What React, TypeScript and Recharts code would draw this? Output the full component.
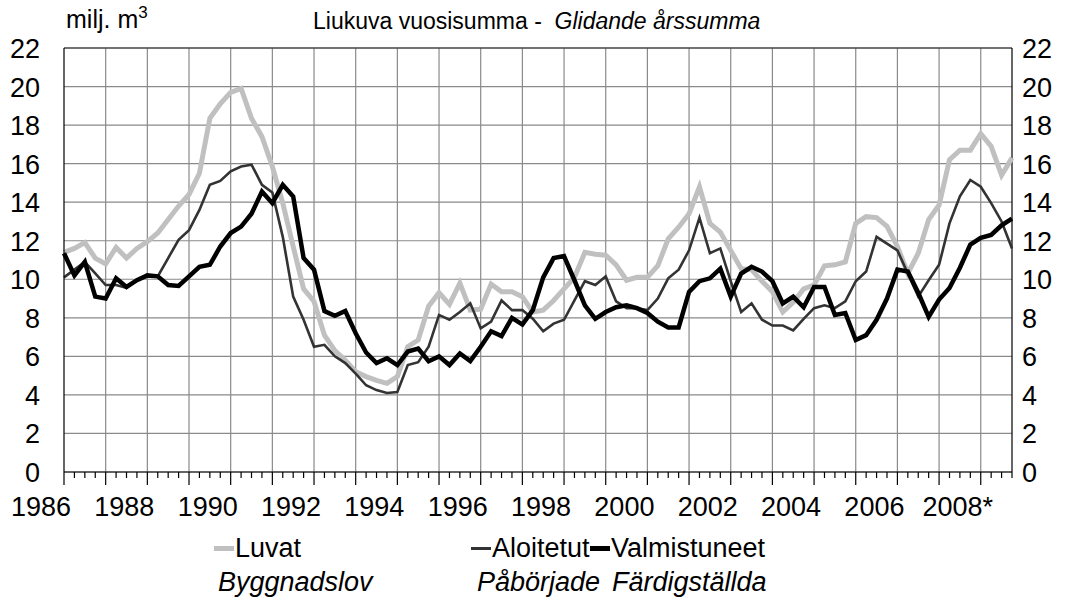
import React from "react";
import { LineChart, Line, XAxis, YAxis, ReferenceLine, CartesianGrid } from "recharts";

// quarterly moving annual sums, 1986 Q1 .. 2008 Q4 (mill. m3)
const luvat = [
  11.4, 11.6, 11.9, 11.1, 10.8, 11.65, 11.1, 11.6, 11.95, 12.4, 13.1, 13.8, 14.4, 15.5, 18.35, 19.1,
  19.7, 19.9, 18.35, 17.4, 15.85, 13.95, 11.7, 9.5, 8.85, 7.1, 6.3, 5.8, 5.2, 4.95, 4.75, 4.6,
  4.95, 6.5, 6.85, 8.6, 9.3, 8.7, 9.8, 8.4, 8.45, 9.75, 9.35, 9.35, 9.1, 8.3, 8.4, 8.9,
  9.5, 10.1, 11.4, 11.3, 11.25, 10.75, 9.95, 10.1, 10.1, 10.7, 12.1, 12.7, 13.4, 14.8, 12.9, 12.45,
  11.5, 10.55, 10.5, 9.9, 9.35, 8.3, 8.8, 9.5, 9.7, 10.7, 10.75, 10.9, 12.9, 13.25, 13.2, 12.75,
  11.7, 10.3, 11.35, 13.1, 13.85, 16.2, 16.7, 16.7, 17.55, 16.9, 15.4, 16.3,
];
const aloitetut = [
  10.1, 10.5, 10.9, 10.3, 9.7, 9.7, 9.55, 9.95, 10.15, 10.15, 11.1, 12.05, 12.55, 13.6, 14.9, 15.1,
  15.6, 15.85, 15.95, 14.9, 14.5, 12.2, 9.1, 7.9, 6.5, 6.6, 6.0, 5.65, 5.1, 4.5, 4.25, 4.1,
  4.15, 5.55, 5.7, 6.5, 8.15, 7.9, 8.3, 8.75, 7.45, 7.8, 8.9, 8.4, 8.4, 7.95, 7.3, 7.7,
  7.9, 8.9, 9.9, 9.7, 10.15, 8.85, 8.5, 8.5, 8.4, 9.0, 10.05, 10.5, 11.5, 13.2, 11.35, 11.6,
  9.9, 8.3, 8.75, 7.9, 7.6, 7.6, 7.35, 7.95, 8.5, 8.65, 8.5, 8.85, 9.9, 10.4, 12.2, 11.85,
  11.5, 10.3, 9.1, 9.95, 10.75, 12.9, 14.3, 15.15, 14.8, 13.95, 13.0, 11.6,
];
const valmistuneet = [
  11.35, 10.2, 10.9, 9.1, 9.0, 10.05, 9.6, 9.95, 10.2, 10.15, 9.7, 9.65, 10.15, 10.65, 10.75, 11.7,
  12.4, 12.73, 13.4, 14.55, 13.95, 14.9, 14.3, 11.1, 10.5, 8.35, 8.1, 8.35, 7.2, 6.2, 5.65, 5.9,
  5.55, 6.25, 6.4, 5.75, 6.0, 5.55, 6.15, 5.75, 6.5, 7.3, 7.05, 8.0, 7.65, 8.4, 10.1, 11.1,
  11.2, 9.95, 8.65, 7.95, 8.3, 8.55, 8.65, 8.5, 8.25, 7.8, 7.5, 7.5, 9.35, 9.9, 10.05, 10.55,
  9.1, 10.3, 10.65, 10.4, 9.9, 8.75, 9.1, 8.55, 9.6, 9.6, 8.15, 8.25, 6.85, 7.1, 7.9, 9.0,
  10.5, 10.4, 9.3, 8.05, 8.95, 9.55, 10.6, 11.8, 12.15, 12.3, 12.8, 13.15,
];

const yearLabels = ["1986", "1988", "1990", "1992", "1994", "1996", "1998", "2000", "2002", "2004", "2006", "2008*"];
const yTicks = [0, 2, 4, 6, 8, 10, 12, 14, 16, 18, 20, 22];

const data = luvat.map((v, i) => ({ q: i, luvat: v, aloitetut: aloitetut[i], valmistuneet: valmistuneet[i] }));
const quarterTicks = data.map((d) => d.q);
const yearTicks = quarterTicks.filter((q) => q % 4 === 0);

const FONT = "'Liberation Sans', Arial, sans-serif";
const GRID = "#8a8a8a";

// tickSize 6 + tickMargin 2 -> axis line sits 8px above the y we get
const XTick = (props: any) => {
  const { x, y, payload } = props;
  const q = payload.value as number;
  const base = y - 8;
  const major = q % 4 === 0;
  return (
    <g>
      <path d={`M${x},${base} L${x},${base + (major ? 13 : 6)}`} stroke="#000" strokeWidth={1.2} fill="none" />
      {q % 8 === 0 && (
        <text x={x - 23} y={base + 44} textAnchor="middle" fontSize={27} fontFamily={FONT} fill="#000">
          {yearLabels[q / 8]}
        </text>
      )}
    </g>
  );
};

// one tick renderer writes both the left and the right value labels
const YTick = ({ y, payload }: any) => (
  <g>
    <text x={40} y={y} dy={10} textAnchor="end" fontSize={27} fontFamily={FONT} fill="#000">
      {payload.value}
    </text>
    <text x={1022} y={y} dy={10} textAnchor="start" fontSize={27} fontFamily={FONT} fill="#000">
      {payload.value}
    </text>
  </g>
);

const legendItems = [
  { name: "Luvat", sv: "Byggnadslov", color: "#c0c0c0", w: 5, x: 214, svX: 218 },
  { name: "Aloitetut", sv: "Påbörjade", color: "#333333", w: 3, x: 471, svX: 477 },
  { name: "Valmistuneet", sv: "Färdigställda", color: "#000000", w: 5, x: 590, svX: 612 },
];

export default function App() {
  return (
    <div style={{ position: "absolute", left: 0, top: 0, width: 1070, height: 605, background: "#fff", fontFamily: FONT }}>
      <div style={{ position: "absolute", left: 66, top: 4, fontSize: 25, lineHeight: "30px" }}>
        milj. m<sup style={{ fontSize: 17, verticalAlign: "top", position: "relative", top: -6 }}>3</sup>
      </div>
      <div style={{ position: "absolute", left: 313, top: 7, fontSize: 23, lineHeight: "28px", whiteSpace: "pre" }}>
        {"Liukuva vuosisumma -  "}
        <i>Glidande årssumma</i>
      </div>

      <LineChart width={1070} height={605} data={data} margin={{ top: 48, right: 58, bottom: 73, left: 0 }}>
        <CartesianGrid yAxisId="l" vertical={false} stroke={GRID} strokeWidth={1.2} />
        <XAxis
          dataKey="q"
          type="number"
          domain={[0, 91]}
          ticks={quarterTicks}
          interval={0}
          height={60}
          tickSize={6}
          tickMargin={2}
          tickLine={false}
          tick={<XTick />}
          axisLine={{ stroke: "#000", strokeWidth: 1.2 }}
        />
        <YAxis
          yAxisId="l"
          width={64}
          domain={[0, 22]}
          ticks={yTicks}
          interval={0}
          tickLine={false}
          tick={<YTick />}
          axisLine={{ stroke: "#000", strokeWidth: 1.2 }}
        />
        {yearTicks.slice(1).map((q) => (
          <ReferenceLine key={`v${q}`} yAxisId="l" x={q} stroke={GRID} strokeWidth={1.2} />
        ))}
        <ReferenceLine yAxisId="l" y={22} stroke="#222" strokeWidth={1.2} />
        <ReferenceLine yAxisId="l" x={91} stroke="#000" strokeWidth={1.2} />
        <Line yAxisId="l" type="linear" dataKey="luvat" stroke="#c0c0c0" strokeWidth={5} dot={false} isAnimationActive={false} />
        <Line yAxisId="l" type="linear" dataKey="aloitetut" stroke="#333333" strokeWidth={2.6} dot={false} isAnimationActive={false} />
        <Line yAxisId="l" type="linear" dataKey="valmistuneet" stroke="#000000" strokeWidth={4.5} dot={false} isAnimationActive={false} />
      </LineChart>

      {legendItems.map((it) => (
        <React.Fragment key={it.name}>
          <div style={{ position: "absolute", left: it.x, top: 548 - it.w / 2, width: 20, height: it.w, background: it.color }} />
          <div style={{ position: "absolute", left: it.x + 21, top: 533, fontSize: 27, lineHeight: "30px" }}>{it.name}</div>
          <div style={{ position: "absolute", left: it.svX, top: 567, fontSize: 27, lineHeight: "30px", fontStyle: "italic" }}>{it.sv}</div>
        </React.Fragment>
      ))}
    </div>
  );
}
